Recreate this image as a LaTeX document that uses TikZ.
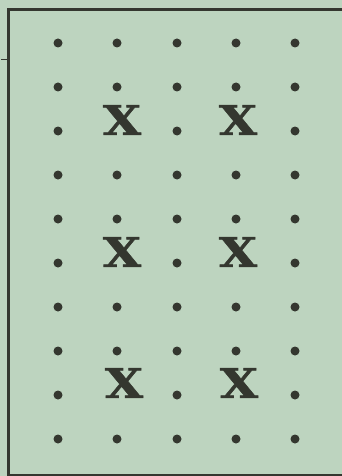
\documentclass[tikz,border=0pt]{standalone}
\usepackage{fontspec}
\newfontfamily\xfont[FakeBold=1.2]{DejaVu Serif Bold}
\definecolor{paper}{HTML}{BDD4BF}
\definecolor{ink}{HTML}{34372F}
\begin{document}
\begin{tikzpicture}[x=1pt,y=-1pt,
  dotmark/.style={circle,fill=ink,inner sep=0pt,minimum size=9pt},
  crossmark/.style={inner sep=0pt,text=ink,font=\xfont\fontsize{41}{41}\selectfont,xscale=1.2},
  frame/.style={draw=ink,line width=2.2pt}]
  \useasboundingbox (0,0) rectangle (342,476);
  \fill[paper] (-3,-3) rectangle (345,479);
  % frame
  \draw[frame] (345,9.5) -- (8.5,9.5) -- (8.5,479);
  \draw[ink,line width=1pt] (1,60) -- (7,60);
  \draw[ink,line width=1.4pt] (10,475) -- (345,475);
  % dots
  \foreach \r/\y in {1/43,2/87,3/131,4/175,5/219,6/263,7/307,8/351,9/395,10/439}{
    \foreach \c/\x in {1/58,2/117,3/177,4/236,5/295}{
      \pgfmathtruncatemacro{\hideit}{((\r==3)||(\r==6)||(\r==9))&&((\c==2)||(\c==4))}
      \ifnum\hideit=0
        \node[dotmark] (d\r\c) at (\x,\y) {};
      \fi
    }
  }
  % crosses
  \node[crossmark] (x1) at (122,120) {X};
  \node[crossmark] (x2) at (238,120) {X};
  \node[crossmark] (x3) at (122,252) {X};
  \node[crossmark] (x4) at (238,252) {X};
  \node[crossmark] (x5) at (124,383) {X};
  \node[crossmark] (x6) at (239,383) {X};
\end{tikzpicture}
\end{document}
